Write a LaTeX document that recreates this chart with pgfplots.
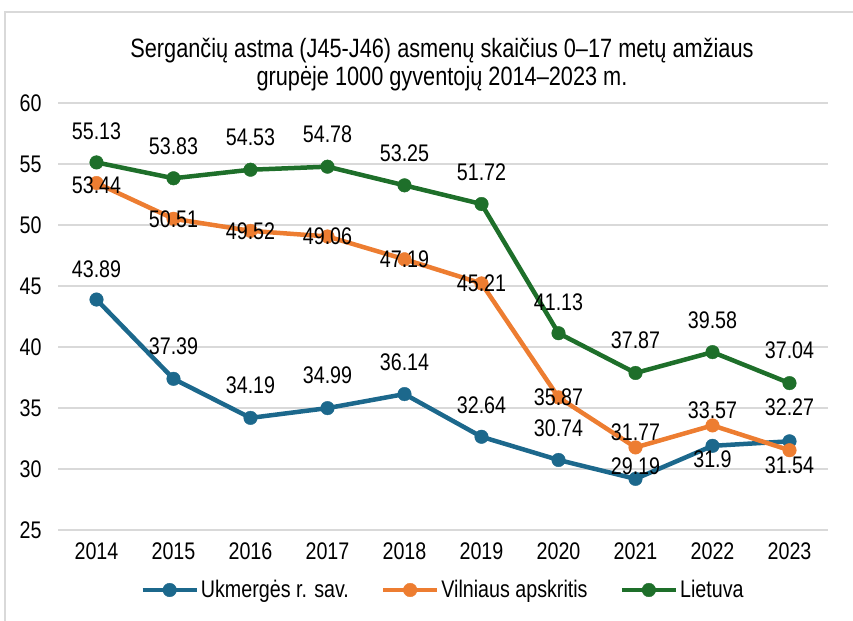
\documentclass[border=0pt]{standalone}
\usepackage{pgfplots}
\pgfplotsset{compat=1.18}
\usepackage{fontspec}
\setmainfont{Liberation Sans}[FakeStretch=0.82]
\definecolor{cblue}{RGB}{28,104,140}
\definecolor{corange}{RGB}{237,125,49}
\definecolor{cgreen}{RGB}{30,111,42}
\definecolor{gridc}{RGB}{217,217,217}
\begin{document}
\begin{tikzpicture}[font=\fontsize{24bp}{28bp}\selectfont]
\useasboundingbox (0,0) rectangle (853bp,621bp);
\draw[color=gridc, line width=2bp] (5bp,0) -- (5bp,609bp) -- (853bp,609bp);
\node[font=\fontsize{26.5bp}{30bp}\selectfont] at (442bp,570bp) {Sergančių astma (J45-J46) asmenų skaičius 0–17 metų amžiaus};
\node[font=\fontsize{26.5bp}{30bp}\selectfont] at (442bp,542bp) {grupėje 1000 gyventojų 2014–2023 m.};
\begin{axis}[
  at={(58bp,91bp)}, anchor=south west,
  width=770bp, height=427bp, scale only axis,
  xmin=-0.5, xmax=9.5, ymin=25, ymax=60,
  ytick={25,30,...,60},
  xtick={0,...,9},
  xticklabels={2014,2015,2016,2017,2018,2019,2020,2021,2022,2023},
  axis line style={draw=none},
  major tick length=0pt,
  ymajorgrids,
  grid style={gridc, line width=1.5bp},
  /pgf/number format/assume math mode=true,
  yticklabel style={xshift=-13bp},
  xticklabel style={yshift=-9bp},
  tick label style={font=\fontsize{24bp}{28bp}\selectfont},
  clip=false,
  legend style={draw=none, fill=none, at={(0.5,-0.1405)}, anchor=center,
    legend columns=3, font=\fontsize{24bp}{28bp}\selectfont,
    /tikz/every even column/.append style={column sep=30bp}},
  legend image code/.code={\draw[mark repeat=2,mark phase=2,#1] plot coordinates {(0bp,0bp)(27bp,0bp)(54bp,0bp)};},
  every axis plot/.append style={line width=4.5bp, mark=*, mark size=6.8bp},
  point meta=explicit symbolic,
  nodes near coords,
  visualization depends on={value \thisrow{dy} \as \dy},
]
\addplot[color=cblue, mark options={fill=cblue, draw=cblue, line width=0.4bp},
  every node near coord/.append style={anchor=center, yshift=\dy bp, text=black, font=\fontsize{24bp}{28bp}\selectfont}]
  table[x=x, y=y, meta=lab] {
x y lab dy
0 43.89 43.89 30
1 37.39 37.39 33
2 34.19 34.19 33
3 34.99 34.99 33
4 36.14 36.14 32
5 32.64 32.64 32
6 30.74 30.74 32
7 29.19 29.19 13
8 31.9 31.9 -13
9 32.27 32.27 34
};
\addlegendentry{Ukmergės r. sav.}
\addplot[color=corange, mark options={fill=corange, draw=corange, line width=0.4bp},
  every node near coord/.append style={anchor=center, yshift=\dy bp, text=black, font=\fontsize{24bp}{28bp}\selectfont}]
  table[x=x, y=y, meta=lab] {
x y lab dy
0 53.44 53.44 -2
1 50.51 50.51 0
2 49.52 49.52 0
3 49.06 49.06 0
4 47.19 47.19 0
5 45.21 45.21 0
6 35.87 35.87 0
7 31.77 31.77 15
8 33.57 33.57 15
9 31.54 31.54 -15
};
\addlegendentry{Vilniaus apskritis}
\addplot[color=cgreen, mark options={fill=cgreen, draw=cgreen, line width=0.4bp},
  every node near coord/.append style={anchor=center, yshift=\dy bp, text=black, font=\fontsize{24bp}{28bp}\selectfont}]
  table[x=x, y=y, meta=lab] {
x y lab dy
0 55.13 55.13 31
1 53.83 53.83 32
2 54.53 54.53 32
3 54.78 54.78 32
4 53.25 53.25 32
5 51.72 51.72 32
6 41.13 41.13 31
7 37.87 37.87 33
8 39.58 39.58 32
9 37.04 37.04 33
};
\addlegendentry{Lietuva}
\end{axis}
\end{tikzpicture}
\end{document}
